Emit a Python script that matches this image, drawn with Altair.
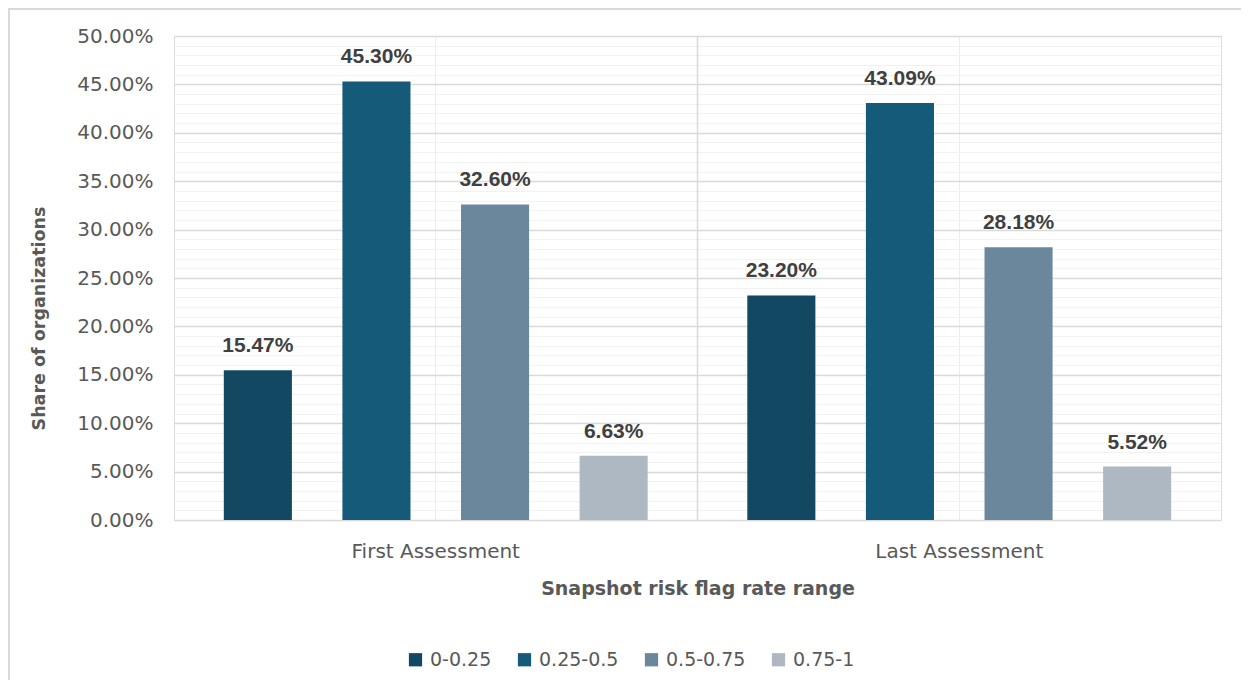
import altair as alt
import pandas as pd

groups = ["First Assessment", "Last Assessment"]
ranges = ["0-0.25", "0.25-0.5", "0.5-0.75", "0.75-1"]
first_values = [0.1547, 0.4530, 0.3260, 0.0663]
last_values = [0.2320, 0.4309, 0.2818, 0.0552]
colors = ["#124862", "#155a79", "#6b879c", "#adb8c3"]
y_ticks = [round(i * 0.01, 2) for i in range(0, 51)]

rows = []
for g, vals in zip(groups, [first_values, last_values]):
    for r, v in zip(ranges, vals):
        rows.append({"group": g, "range": r, "value": v})
df = pd.DataFrame(rows)

W, H = 1047, 484

x_enc = alt.X(
    "group:N",
    sort=groups,
    scale=alt.Scale(paddingInner=0, paddingOuter=0),
    axis=alt.Axis(
        title="Snapshot risk flag rate range",
        labelAngle=0,
        labelAlign="center",
        labelBaseline="top",
        labelFont="DejaVu Sans",
        labelFontSize=20,
        labelColor="#595959",
        labelPadding=21,
        ticks=False,
        domain=False,
        grid=True,
        gridColor="#ececec",
        gridWidth=1,
        titleFont="DejaVu Sans",
        titleFontWeight="bold",
        titleFontSize=19,
        titleColor="#595959",
        titlePadding=18,
    ),
)
xoff_enc = alt.XOffset(
    "range:N", sort=ranges, scale=alt.Scale(paddingInner=0.426, paddingOuter=0.42)
)
y_enc = alt.Y(
    "value:Q",
    scale=alt.Scale(domain=[0, 0.5], nice=False),
    axis=alt.Axis(
        title="Share of organizations",
        values=y_ticks,
        labelExpr="round(datum.value*100) % 5 === 0 ? format(datum.value, '.2%') : ''",
        labelOverlap=False,
        labelFont="DejaVu Sans",
        labelFontSize=20,
        labelColor="#595959",
        labelPadding=21,
        ticks=False,
        domain=False,
        grid=True,
        gridColor={
            "condition": {"test": "round(datum.value*100) % 5 === 0", "value": "#d9d9d9"},
            "value": "#f2f2f2",
        },
        gridWidth={
            "condition": {"test": "round(datum.value*100) % 5 === 0", "value": 1.5},
            "value": 1,
        },
        titleFont="DejaVu Sans",
        titleFontWeight="bold",
        titleFontSize=17.5,
        titleColor="#595959",
        titleX=-126,
        titleY=282,
    ),
)

base = alt.Chart(df)

bars = base.mark_bar().encode(
    x=x_enc,
    xOffset=xoff_enc,
    y=y_enc,
    color=alt.Color(
        "range:N",
        sort=ranges,
        scale=alt.Scale(domain=ranges, range=colors),
        legend=alt.Legend(
            title=None,
            orient="none",
            direction="horizontal",
            legendX=232,
            legendY=614,
            symbolType="square",
            symbolSize=175,
            symbolStrokeWidth=0,
            labelFont="DejaVu Sans",
            labelFontSize=19,
            labelColor="#595959",
            labelOffset=5,
            columnPadding=23,
            padding=0,
        ),
    ),
)

labels = base.mark_text(
    font="Liberation Sans",
    fontWeight="bold",
    fontSize=21,
    color="#404040",
    baseline="alphabetic",
    dy=-18,
).encode(
    x=alt.X("group:N", sort=groups, axis=None),
    xOffset=alt.XOffset("range:N", sort=ranges),
    y=alt.Y("value:Q", axis=None),
    text=alt.Text("value:Q", format=".2%"),
)

sep = alt.Chart(pd.DataFrame({"group": [groups[1]]})).mark_rule(
    color="#d9d9d9", strokeWidth=1.5
).encode(
    x=alt.X("group:N", sort=groups, bandPosition=0, axis=None),
    y=alt.value(0),
    y2=alt.value(H),
)

frame = alt.Chart(pd.DataFrame({"a": [0]})).mark_rect(
    fill=None, stroke="#d9d9d9", strokeWidth=2, clip=False
).encode(
    x=alt.value(-165),
    x2=alt.value(W + 100),
    y=alt.value(-27),
    y2=alt.value(H + 300),
)

chart = (
    alt.layer(bars, sep, labels, frame)
    .resolve_axis(x="independent", y="independent")
    .properties(
        width=W,
        height=H,
        autosize=alt.AutoSizeParams(type="none"),
        padding={"left": 166, "top": 28, "right": 20, "bottom": 160},
    )
    .configure_view(stroke="#d9d9d9", strokeWidth=1.5)
    .configure(background="white")
)

chart.save("out.html", embed_options={"renderer": "svg", "actions": False})
